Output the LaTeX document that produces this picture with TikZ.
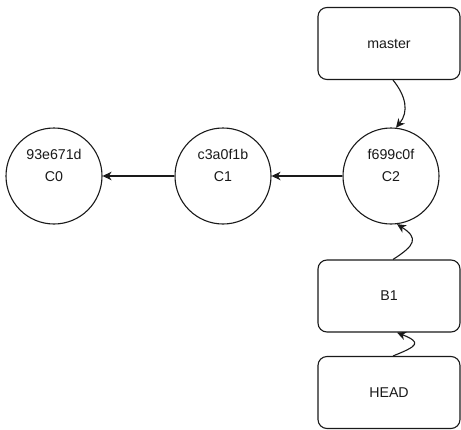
\documentclass[tikz,border=0pt]{standalone}
\usepackage{fontspec}
\setmainfont{Liberation Sans}
\usetikzlibrary{arrows.meta,calc}
\definecolor{ink}{HTML}{1A1A1A}
\tikzset{
  commit/.style={circle,draw=ink,line width=1.1pt,minimum size=96pt,inner sep=0pt,fill=white},
  refbox/.style={rectangle,rounded corners=9pt,draw=ink,line width=1.1pt,minimum width=142pt,minimum height=72pt,inner sep=0pt,fill=white,font=\fontsize{14.2}{16}\selectfont,text=ink},
  lbl/.style={inner sep=0pt,font=\fontsize{14.2}{16}\selectfont,text=ink},
  arr/.style={draw=ink,line width=1.1pt,-{Stealth[length=9pt,width=8.5pt,inset=2.8pt]}},
}
\begin{document}
\begin{tikzpicture}[x=1pt,y=-1pt]
\useasboundingbox (0,0) rectangle (461,429);
% commits
\node[commit] (c0) at (54,176) {};
\node[commit] (c1) at (223,176) {};
\node[commit] (c2) at (391,176) {};
\node[lbl] (c0h) at ($(c0.center)+(0,-22)$) {93e671d};
\node[lbl] (c0n) at ($(c0.center)+(0,1)$) {C0};
\node[lbl] (c1h) at ($(c1.center)+(0,-22)$) {c3a0f1b};
\node[lbl] (c1n) at ($(c1.center)+(0,1)$) {C1};
\node[lbl] (c2h) at ($(c2.center)+(0,-22)$) {f699c0f};
\node[lbl] (c2n) at ($(c2.center)+(0,1)$) {C2};
% references
\node[refbox] (master) at (389,43.5) {master};
\node[refbox] (b1) at (389,296) {B1};
\node[refbox] (head) at (389,392.5) {HEAD};
% parent links
\draw[arr] (c1.west) -- (c0.east);
\draw[arr] (c2.west) -- (c1.east);
% reference pointers
\coordinate (mS) at ($(master.south)+(4,0)$);
\coordinate (c2N) at ($(c2.north)+(5,0.3)$);
\coordinate (c2S) at ($(c2.south)+(6,-0.4)$);
\coordinate (b1N) at ($(b1.north)+(4,0)$);
\coordinate (b1S) at ($(b1.south)+(8,0)$);
\coordinate (hN) at ($(head.north)+(4,0)$);
\draw[arr] (mS) .. controls ($(mS)+(13,16)$) and ($(c2N)+(13,-16)$) .. (c2N);
\draw[arr] (b1N) .. controls ($(b1N)+(22,-14)$) and ($(c2S)+(22,14)$) .. (c2S);
\draw[arr] (hN) .. controls ($(hN)+(25,-10)$) and ($(b1S)+(25,10)$) .. (b1S);
\end{tikzpicture}
\end{document}
